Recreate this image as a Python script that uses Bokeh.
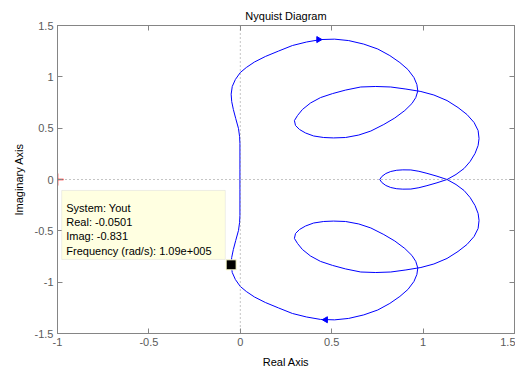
import math

from bokeh.embed import file_html
from bokeh.models import BoxAnnotation, FixedTicker, Label, LinearAxis, Range1d, Span
from bokeh.plotting import figure
from bokeh.resources import INLINE

# Frequency response of Yout for positive frequencies (real / imaginary parts)
resp_re = [0.763, 0.774, 0.796, 0.823, 0.856, 0.889, 0.933, 0.977, 1.021, 1.076, 1.131,
           1.180, 1.224, 1.257, 1.284, 1.301, 1.306, 1.301, 1.279, 1.240, 1.191,
           1.131, 1.059, 0.988, 0.906, 0.823, 0.741, 0.659, 0.576, 0.505, 0.439,
           0.384, 0.340, 0.313, 0.296, 0.302, 0.324, 0.357, 0.401, 0.456, 0.510,
           0.576, 0.648, 0.714, 0.785, 0.845, 0.900, 0.939, 0.960, 0.971, 0.966,
           0.950, 0.917, 0.873, 0.818, 0.752, 0.675, 0.593, 0.516, 0.439, 0.362,
           0.285, 0.209, 0.137, 0.077, 0.033, 0.000, -0.027, -0.044, -0.0501, -0.047,
           -0.038, -0.025, -0.010, -0.004, -0.002, -0.002, -0.002, -0.002]
resp_im = [0.0, 0.029, 0.058, 0.078, 0.090, 0.094, 0.093, 0.080, 0.060, 0.032, 0.0,
           -0.049, -0.107, -0.175, -0.253, -0.331, -0.399, -0.477, -0.555, -0.633, -0.701,
           -0.769, -0.823, -0.857, -0.881, -0.901, -0.906, -0.901, -0.871, -0.837, -0.798,
           -0.745, -0.682, -0.623, -0.574, -0.526, -0.487, -0.453, -0.424, -0.409, -0.405,
           -0.409, -0.433, -0.472, -0.536, -0.599, -0.672, -0.740, -0.798, -0.862, -0.925,
           -0.993, -1.071, -1.139, -1.207, -1.271, -1.319, -1.353, -1.367, -1.363, -1.339,
           -1.305, -1.251, -1.198, -1.144, -1.091, -1.042, -0.974, -0.906, -0.831, -0.759,
           -0.682, -0.594, -0.497, -0.420, -0.350, -0.200, -0.100, 0.0]

# Direction arrows on the curve
arrow_re = [0.467, 0.428]
arrow_im = [-1.366, 1.363]
arrow_angle = [math.pi / 2, -math.pi / 2]   # left on the lower branch, right on the upper

# Data tip
tip_system = "Yout"
tip_re = -0.0501
tip_im = -0.831
tip_freq = 1.09e5

# Axis ticks
x_ticks = [-1, -0.5, 0, 0.5, 1, 1.5]
x_tick_labels = ["-1", "-0.5", "0", "0.5", "1", "1.5"]
y_ticks = [-1.5, -1, -0.5, 0, 0.5, 1, 1.5]
y_tick_labels = ["-1.5", "-1", "-0.5", "0", "0.5", "1", "1.5"]

FONT = "Liberation Sans"
FRAME = "#858585"
TICK_TEXT = "#5a5a5a"
CURVE = "#0000ff"


def matlab_exp(v):
    mant, ex = f"{v:.2e}".split("e")
    sign = "+" if int(ex) >= 0 else "-"
    return f"{mant}e{sign}{abs(int(ex)):03d}"


p = figure(width=515, height=373,
           x_range=Range1d(-1, 1.5), y_range=Range1d(-1.5, 1.5),
           output_backend="svg", toolbar_location=None,
           title="Nyquist Diagram",
           x_axis_label="Real Axis", y_axis_label="Imaginary Axis",
           min_border_left=57, min_border_right=1,
           min_border_top=25, min_border_bottom=40)
p.background_fill_color = "white"
p.border_fill_color = "white"
p.outline_line_color = FRAME
p.grid.visible = False

p.title.align = "center"
p.title.text_font = FONT
p.title.text_font_size = "11px"
p.title.text_font_style = "normal"
p.title.text_color = "#000000"
p.title.standoff = 7


def style_axis(ax, ticks, labels, show):
    ax.ticker = FixedTicker(ticks=ticks)
    ax.axis_line_color = FRAME
    ax.major_tick_line_color = FRAME
    ax.major_tick_in = 5
    ax.major_tick_out = 0
    ax.minor_tick_line_color = None
    ax.major_label_text_font = FONT
    ax.axis_label_text_font = FONT
    ax.axis_label_text_font_size = "11px"
    ax.axis_label_text_font_style = "normal"
    ax.axis_label_text_color = "#000000"
    if show:
        ax.major_label_overrides = dict(zip(ticks, labels))
        ax.major_label_text_font_size = "11px"
        ax.major_label_text_color = TICK_TEXT
        ax.major_label_standoff = 4
        ax.axis_label_standoff = 7
    else:
        ax.major_label_overrides = {t: "" for t in ticks}
        ax.major_label_text_font_size = "0px"
        ax.major_label_standoff = 0


style_axis(p.xaxis[0], x_ticks, x_tick_labels, True)
style_axis(p.yaxis[0], y_ticks, y_tick_labels, True)
top_axis = LinearAxis()
right_axis = LinearAxis()
style_axis(top_axis, x_ticks, x_tick_labels, False)
style_axis(right_axis, y_ticks, y_tick_labels, False)
p.add_layout(top_axis, "above")
p.add_layout(right_axis, "right")

# The last x tick label sits on the canvas edge; draw it as a free label so the
# axis does not reserve room for it on the right.
p.xaxis[0].major_label_overrides = {**dict(zip(x_ticks, x_tick_labels)), x_ticks[-1]: ""}
p.add_layout(Label(x=x_ticks[-1], y=y_ticks[0], text=x_tick_labels[-1],
                   y_offset=-4, text_align="center", text_baseline="top",
                   text_font=FONT, text_font_size="11px", text_color=TICK_TEXT))

# Zero lines
for dim in ("width", "height"):
    p.add_layout(Span(location=0, dimension=dim, line_color="#8a8a8a",
                      line_width=1, line_dash="1 3"))

# Critical point -1 + 0j
p.scatter([-1], [0], marker="cross", size=12, line_color="#ff0000", line_width=1.5)

# Positive and negative frequency branches
p.line(resp_re, resp_im, line_color=CURVE, line_width=1)
p.line(resp_re, [-v for v in resp_im], line_color=CURVE, line_width=1)

p.scatter(arrow_re, arrow_im, marker="triangle", angle=arrow_angle, size=6,
          fill_color=CURVE, line_color=CURVE)

# Data tip box and text
p.add_layout(BoxAnnotation(left=-0.977, right=-0.082, top=-0.107, bottom=-0.779,
                           fill_color="#ffffe1", fill_alpha=1.0,
                           line_color="#c8c8c8", line_width=1))
tip_lines = [f"System: {tip_system}",
             f"Real: {tip_re:.3g}",
             f"Imag: {tip_im:.3g}",
             f"Frequency (rad/s): {matlab_exp(tip_freq)}"]
for i, txt in enumerate(tip_lines):
    p.add_layout(Label(x=-0.952, y=-0.276 - i * 0.139, text=txt,
                       text_font=FONT, text_font_size="11px",
                       text_color="#000000", text_baseline="alphabetic"))

p.scatter([tip_re], [tip_im], marker="square", size=10,
          fill_color="#000000", line_color="#ffffd0", line_width=1)

open("out.html", "w").write(file_html(p, INLINE))
